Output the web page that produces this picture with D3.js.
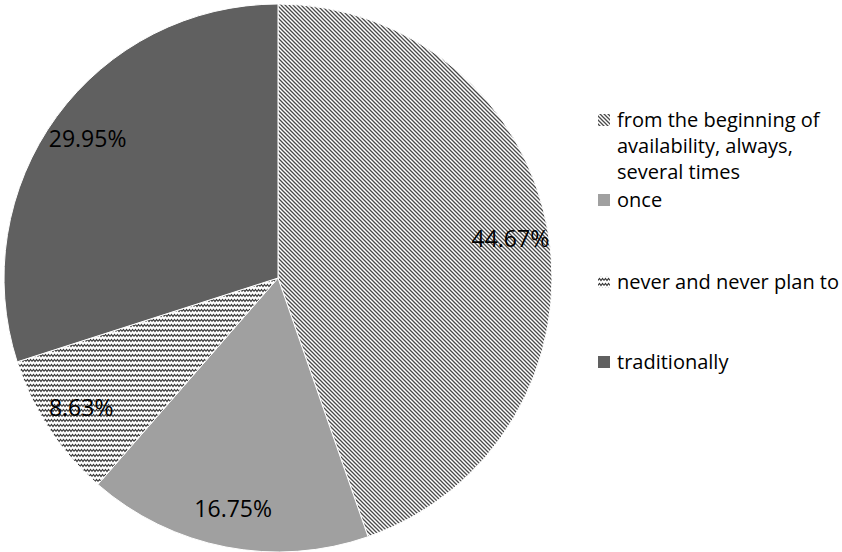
<!DOCTYPE html>
<html>
<head>
<meta charset="utf-8">
<script src="https://cdn.jsdelivr.net/npm/d3@7"></script>
<style>
  body { margin: 0; background: #fff; }
  svg text { font-family: "Open Sans", Lato, sans-serif; fill: #000; }
</style>
</head>
<body>
<div id="chart"></div>
<script>
const categories = [
  ['from the beginning of', 'availability, always,', 'several times'],
  ['once'],
  ['never and never plan to'],
  ['traditionally']
]
const values = [44.67, 16.75, 8.63, 29.95]
const labels = ['44.67%', '16.75%', '8.63%', '29.95%']
const fills = ['url(#stripes)', '#a0a0a0', 'url(#zigzag)', '#606060']

const width = 842, height = 552
const cx = 278, cy = 278, r = 274

const svg = d3.select('#chart').append('svg')
  .attr('width', width)
  .attr('height', height)

const defs = svg.append('defs')

// diagonal stripes
const stripes = defs.append('pattern')
  .attr('id', 'stripes')
  .attr('patternUnits', 'userSpaceOnUse')
  .attr('width', 4)
  .attr('height', 4)
stripes.append('rect').attr('width', 4).attr('height', 4).attr('fill', '#fff')
stripes.append('path')
  .attr('d', 'M-1,-1 L5,5 M-1,3 L1,5 M3,-1 L5,1')
  .attr('stroke', '#4a4a4a')
  .attr('stroke-width', 1.3)

// zigzag
const zig = defs.append('pattern')
  .attr('id', 'zigzag')
  .attr('patternUnits', 'userSpaceOnUse')
  .attr('width', 6)
  .attr('height', 5)
zig.append('rect').attr('width', 6).attr('height', 5).attr('fill', '#fff')
zig.append('path')
  .attr('d', 'M0,3.5 L1.5,1.5 L3,3.5 L4.5,1.5 L6,3.5')
  .attr('stroke', '#333')
  .attr('stroke-width', 1.1)
  .attr('fill', 'none')

const pie = d3.pie().sort(null).value(d => d)
const arcs = pie(values)

const arc = d3.arc().innerRadius(0).outerRadius(r)
const labelArc = d3.arc().innerRadius(r * 0.86).outerRadius(r * 0.86)

const g = svg.append('g').attr('transform', `translate(${cx},${cy})`)

g.selectAll('path')
  .data(arcs)
  .enter()
  .append('path')
  .attr('d', arc)
  .attr('fill', (d, i) => fills[i])
  .attr('stroke', '#fff')
  .attr('stroke-width', 1)

g.selectAll('text')
  .data(arcs)
  .enter()
  .append('text')
  .attr('transform', d => `translate(${labelArc.centroid(d)})`)
  .attr('text-anchor', 'middle')
  .attr('dy', '0.35em')
  .attr('font-size', 23)
  .text((d, i) => labels[i])

// legend
const legendY = [120, 200, 282, 362]
const legend = svg.append('g')

categories.forEach((lines, i) => {
  const item = legend.append('g').attr('transform', `translate(598,${legendY[i]})`)
  item.append('rect')
    .attr('x', 0)
    .attr('y', -6)
    .attr('width', 12)
    .attr('height', 12)
    .attr('fill', fills[i])
  lines.forEach((t, j) => {
    item.append('text')
      .attr('x', 19)
      .attr('y', j * 26)
      .attr('dy', '0.35em')
      .attr('font-size', 20)
      .text(t)
  })
})
</script>
</body>
</html>
